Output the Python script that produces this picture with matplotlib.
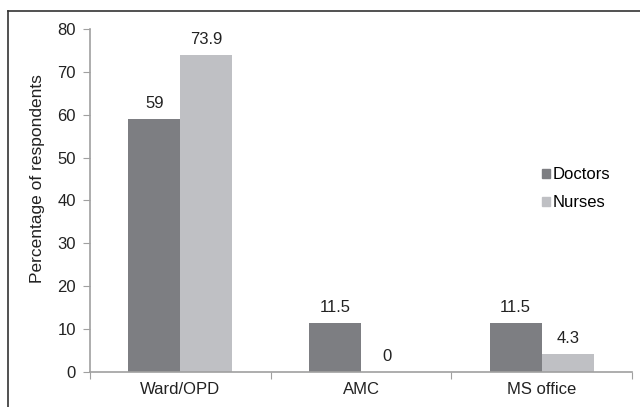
import matplotlib
matplotlib.use("Agg")
import matplotlib.pyplot as plt
from matplotlib.lines import Line2D
from matplotlib.patches import Patch
import numpy as np

plt.rcParams['font.family'] = ['Liberation Sans', 'DejaVu Sans']

categories = ["Ward/OPD", "AMC", "MS office"]
doctors = [59, 11.5, 11.5]
nurses = [73.9, 0, 4.3]
doctor_labels = ["59", "11.5", "11.5"]
nurse_labels = ["73.9", "0", "4.3"]

doc_color = "#7d7e82"
nur_color = "#bfc0c4"
axis_color = "#a0a0a0"
text_color = "#222222"
fs = 12

fig = plt.figure(figsize=(6.4, 4.07), dpi=100)
ax = fig.add_axes([90 / 640, 35 / 407, 542 / 640, 343 / 407])

x = np.arange(len(categories))
w = 0.288
b1 = ax.bar(x - w / 2, doctors, w, color=doc_color, label="Doctors")
b2 = ax.bar(x + w / 2, nurses, w, color=nur_color, label="Nurses")

for bars, labels in ((b1, doctor_labels), (b2, nurse_labels)):
    for rect, lab in zip(bars, labels):
        ax.annotate(lab, (rect.get_x() + rect.get_width() / 2, rect.get_height()),
                    xytext=(0, 11), textcoords="offset pixels",
                    ha="center", va="baseline", fontsize=fs, color=text_color)

ax.set_xlim(-0.5, 2.5)
ax.set_ylim(0, 80)
ax.set_yticks(range(0, 81, 10))
ax.set_xticks([-0.5, 0.5, 1.5, 2.5])
ax.set_xticklabels([])
ax.set_xticks(x, minor=True)
ax.set_xticklabels(categories, minor=True)
ax.tick_params(axis="x", which="minor", length=0, pad=7, labelsize=fs, labelcolor=text_color)
ax.tick_params(axis="x", which="major", length=5, color=axis_color, direction="out")
ax.tick_params(axis="y", length=5, color=axis_color, labelsize=fs, labelcolor=text_color, pad=5)

for s in ("top", "right"):
    ax.spines[s].set_visible(False)
for s in ("left", "bottom"):
    ax.spines[s].set_color(axis_color)
    ax.spines[s].set_linewidth(1.2)

ax.set_ylabel("Percentage of respondents", fontsize=12.5, color=text_color)
ax.yaxis.set_label_coords(-0.083, 0.565)

handles = [Patch(color=doc_color), Patch(color=nur_color)]
ax.legend(handles, ["Doctors", "Nurses"], loc="upper left",
          bbox_to_anchor=(452 / 542, (372 - 167) / 343), frameon=False,
          fontsize=fs, handlelength=0.48, handleheight=0.45, handletextpad=0.15,
          labelspacing=0.78, borderaxespad=0, borderpad=0)

# outer frame (top and left edges)
fig.add_artist(Line2D([8 / 640, 1], [1 - 11 / 407, 1 - 11 / 407],
                      transform=fig.transFigure, color="#333333", lw=1.2))
fig.add_artist(Line2D([8 / 640, 8 / 640], [0, 1 - 11 / 407],
                      transform=fig.transFigure, color="#333333", lw=1.2))

fig.savefig("out.png", dpi=100)
